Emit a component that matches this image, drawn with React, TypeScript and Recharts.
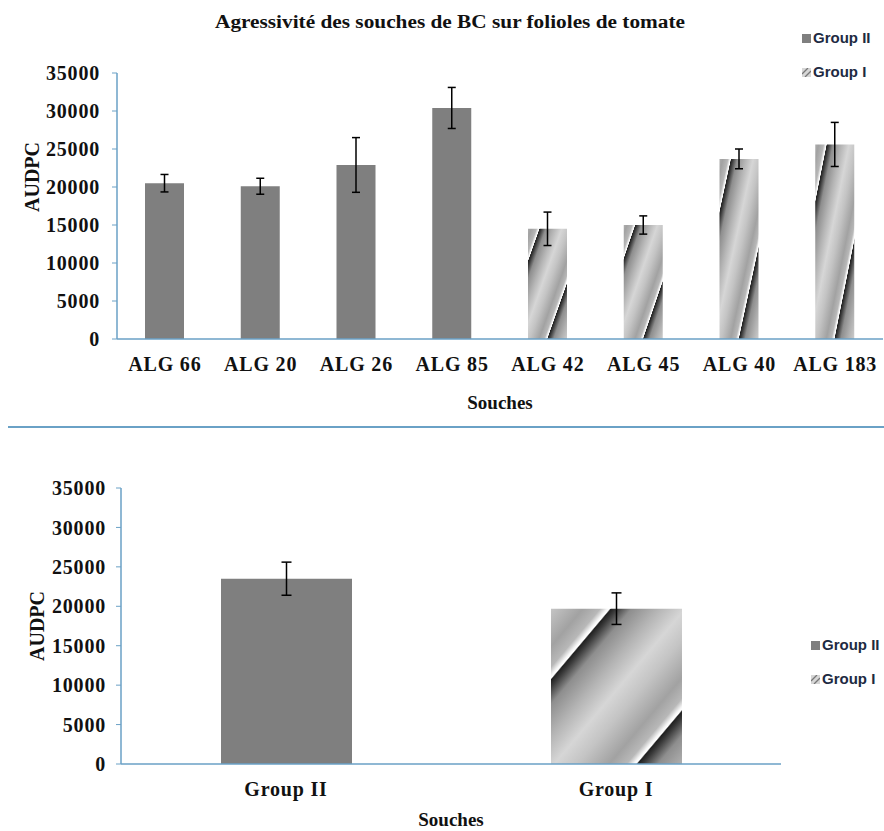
import { BarChart, Bar, XAxis, YAxis, Cell, ErrorBar, Legend } from "recharts";

// top chart: each strain
const strains = ["ALG 66", "ALG 20", "ALG 26", "ALG 85", "ALG 42", "ALG 45", "ALG 40", "ALG 183"];
const strainGroup = ["Group II", "Group II", "Group II", "Group II", "Group I", "Group I", "Group I", "Group I"];
const strainAudpc = [20500, 20100, 22900, 30400, 14500, 15000, 23700, 25600];
const strainSd = [1150, 1050, 3600, 2700, 2200, 1200, 1300, 2900];

// bottom chart: group means
const groups = ["Group II", "Group I"];
const groupAudpc = [23500, 19700];
const groupSd = [2100, 2000];

const yTicks = [0, 5000, 10000, 15000, 20000, 25000, 30000, 35000];
const legendItems = ["Group II", "Group I"];

const AXIS = "#6aa1c6";
const GREY = "#7f7f7f";
const SERIF = "'Liberation Serif', 'Times New Roman', serif";
const SANS = "'Liberation Sans', Arial, sans-serif";

const strainRows = strains.map((name, i) => ({
  name,
  group: strainGroup[i],
  audpc: strainAudpc[i],
  sd: strainSd[i],
}));
const groupRows = groups.map((name, i) => ({
  name,
  group: name,
  audpc: groupAudpc[i],
  sd: groupSd[i],
}));

const tickFont = {
  fontFamily: SERIF,
  fontWeight: 700,
  fontSize: 20,
  fill: "#111",
  style: { letterSpacing: "0.8px" },
};
const titleFont = { fontFamily: SERIF, fontWeight: 700, fontSize: 20, fill: "#111" };

// diagonal shaded stripes, stretched over each bar like the excel fill
const StripeFill = ({ id, shift }: { id: string; shift: number }) => (
  <linearGradient
    id={id}
    x1={shift}
    y1={shift}
    x2={shift + 0.6}
    y2={shift + 0.6}
    spreadMethod="repeat"
  >
    <stop offset="0" stopColor="#202020" />
    <stop offset="0.035" stopColor="#3a3a3a" />
    <stop offset="0.13" stopColor="#8e8e8e" />
    <stop offset="0.3" stopColor="#b4b4b4" />
    <stop offset="0.47" stopColor="#d6d6d6" />
    <stop offset="0.62" stopColor="#c4c4c4" />
    <stop offset="0.82" stopColor="#a2a2a2" />
    <stop offset="0.93" stopColor="#b8b8b8" />
    <stop offset="0.975" stopColor="#f6f6f6" />
    <stop offset="0.99" stopColor="#ffffff" />
    <stop offset="1" stopColor="#202020" />
  </linearGradient>
);

const GroupLegend = () => (
  <div
    style={{
      fontFamily: SANS,
      fontWeight: 700,
      fontSize: 15,
      color: "#1d2a42",
      lineHeight: "16px",
      whiteSpace: "nowrap",
    }}
  >
    {legendItems.map((g, i) => (
      <div
        key={g}
        style={{ display: "flex", alignItems: "center", marginBottom: i === 0 ? 18 : 0 }}
      >
        <svg width={9} height={9} style={{ marginRight: 2 }}>
          {i === 0 ? (
            <rect width={9} height={9} fill={GREY} />
          ) : (
            <g>
              <rect width={9} height={9} fill="#d6d6d6" />
              <path d="M0 6 L6 0 M3 9 L9 3" stroke="#777" strokeWidth={1.3} />
            </g>
          )}
        </svg>
        <span>{g}</span>
      </div>
    ))}
  </div>
);

export default function App() {
  return (
    <div
      style={{
        position: "absolute",
        left: 0,
        top: 0,
        width: 884,
        height: 831,
        overflow: "hidden",
        background: "#fff",
      }}
    >
      <svg width={884} height={50} style={{ position: "absolute", left: 0, top: 0 }}>
        <text
          x={450}
          y={28}
          textAnchor="middle"
          fontFamily={SERIF}
          fontWeight={700}
          fontSize={18}
          textLength={470}
          lengthAdjust="spacingAndGlyphs"
          fill="#111"
        >
          Agressivité des souches de BC sur folioles de tomate
        </text>
      </svg>

      <div style={{ position: "absolute", left: 0, top: 0 }}>
        <BarChart
          width={884}
          height={420}
          data={strainRows}
          margin={{ top: 73, right: 1, bottom: 9, left: 0 }}
          barSize={39}
        >
          <defs>
            <StripeFill id="stripeTop" shift={0.15} />
          </defs>
          <XAxis
            xAxisId="bounds"
            type="number"
            domain={[0, strains.length]}
            ticks={strains.map((_, i) => i).concat(strains.length)}
            allowDataOverflow
            tick={false}
            tickSize={5}
            tickLine={{ stroke: AXIS }}
            axisLine={false}
            height={0}
          />
          <XAxis
            dataKey="name"
            height={72}
            axisLine={{ stroke: AXIS, strokeWidth: 1.5 }}
            tickLine={false}
            tickSize={0}
            tickMargin={18}
            tick={tickFont}
            interval={0}
            label={{
              value: "Souches",
              position: "insideBottom",
              offset: 2,
              style: { ...titleFont, fontSize: 19 },
            }}
          />
          <YAxis
            domain={[0, 35000]}
            ticks={yTicks}
            interval={0}
            width={117}
            axisLine={{ stroke: AXIS, strokeWidth: 1.5 }}
            tickLine={{ stroke: AXIS }}
            tickSize={5}
            tickMargin={12}
            tick={tickFont}
            label={{
              value: "AUDPC",
              angle: -90,
              position: "insideLeft",
              offset: 32,
              dy: -29,
              style: { ...titleFont, textAnchor: "middle" },
            }}
          />
          <Legend
            layout="horizontal"
            verticalAlign="middle"
            align="center"
            content={<GroupLegend />}
            wrapperStyle={{ left: 802, top: 30, width: 90 }}
          />
          <Bar dataKey="audpc" isAnimationActive={false}>
            {strainRows.map((r) => (
              <Cell key={r.name} fill={r.group === "Group II" ? GREY : "url(#stripeTop)"} />
            ))}
            <ErrorBar dataKey="sd" width={4} stroke="#000" strokeWidth={1.5} />
          </Bar>
        </BarChart>
      </div>

      <div
        style={{
          position: "absolute",
          left: 8,
          top: 426,
          width: 876,
          height: 2,
          background: AXIS,
        }}
      />

      <div style={{ position: "absolute", left: 0, top: 430 }}>
        <BarChart
          width={884}
          height={401}
          data={groupRows}
          margin={{ top: 58, right: 103, bottom: 5, left: 0 }}
          barSize={131}
        >
          <defs>
            <StripeFill id="stripeBottom" shift={0.23} />
          </defs>
          <XAxis
            dataKey="name"
            height={62}
            axisLine={{ stroke: AXIS, strokeWidth: 1.5 }}
            tickLine={false}
            tickSize={0}
            tickMargin={18}
            tick={tickFont}
            label={{
              value: "Souches",
              position: "insideBottom",
              offset: 0,
              style: { ...titleFont, fontSize: 19 },
            }}
          />
          <YAxis
            domain={[0, 35000]}
            ticks={yTicks}
            interval={0}
            width={121}
            axisLine={{ stroke: AXIS, strokeWidth: 1.5 }}
            tickLine={{ stroke: AXIS }}
            tickSize={5}
            tickMargin={10}
            tick={tickFont}
            label={{
              value: "AUDPC",
              angle: -90,
              position: "insideLeft",
              offset: 37,
              style: { ...titleFont, textAnchor: "middle" },
            }}
          />
          <Legend
            layout="horizontal"
            verticalAlign="middle"
            align="center"
            content={<GroupLegend />}
            wrapperStyle={{ left: 811, top: 207, width: 90 }}
          />
          <Bar dataKey="audpc" isAnimationActive={false}>
            {groupRows.map((r) => (
              <Cell key={r.name} fill={r.group === "Group II" ? GREY : "url(#stripeBottom)"} />
            ))}
            <ErrorBar dataKey="sd" width={5} stroke="#000" strokeWidth={1.5} />
          </Bar>
        </BarChart>
      </div>
    </div>
  );
}
